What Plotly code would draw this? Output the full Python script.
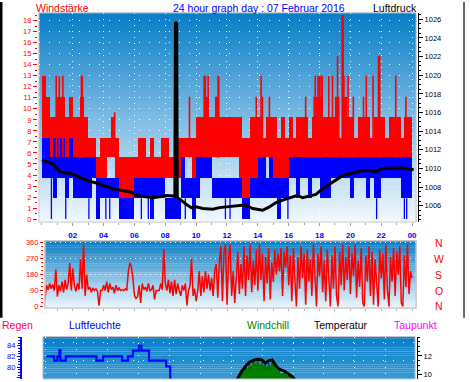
import plotly.graph_objects as go

W, H = 470, 382

# ---------------- data ----------------
BIN = 0.25  # hours per wind bin
gust_hi = [13.0, 11.1, 9.3, 9.3,  11.1, 11.1, 9.3, 11.1,  9.3, 9.3, 11.1, 9.3,  7.4, 7.4, 5.6, 7.4,
           7.4, 7.4, 9.3, 7.4,  5.6, 5.6, 5.6, 5.6,  5.6, 7.4, 7.4, 5.6,  7.4, 5.6, 5.6, 7.4,
           7.4, 5.6, 5.6, 7.4,  7.4, 7.4, 7.4, 7.4,  9.3, 9.3, 11.1, 9.3,  9.3, 11.1, 9.3, 9.3,
           9.3, 9.3, 9.3, 9.3,  7.4, 7.4, 9.3, 9.3,  9.3, 7.4, 9.3, 9.3,  9.3, 7.4, 9.3, 7.4,
           9.3, 7.4, 9.3, 9.3,  9.3, 7.4, 9.3, 11.1,  11.1, 9.3, 9.3, 9.3,  11.1, 7.4, 11.1, 9.3,
           9.3, 7.4, 9.3, 9.3,  9.3, 7.4, 9.3, 9.3,  9.3, 7.4, 9.3, 9.3,  9.3, 7.4, 9.3, 9.3]
gust_lo = [7.4, 7.4, 5.6, 7.4,  7.4, 7.4, 5.6, 7.4,  5.6, 5.6, 5.6, 5.6,  5.6, 5.6, 3.7, 3.7,
           3.7, 5.6, 5.6, 3.7,  0.0, 0.0, 0.0, 1.9,  3.7, 3.7, 3.7, 3.7,  3.7, 3.7, 3.7, 3.7,
           3.7, 3.7, 3.7, 3.7,  5.6, 5.6, 5.6, 3.7,  5.6, 5.6, 5.6, 5.6,  5.6, 5.6, 5.6, 5.6,
           5.6, 5.6, 5.6, 3.7,  1.9, 1.9, 3.7, 3.7,  5.6, 5.6, 5.6, 5.6,  3.7, 1.9, 3.7, 1.9,
           5.6, 5.6, 5.6, 5.6,  5.6, 5.6, 5.6, 5.6,  5.6, 5.6, 5.6, 5.6,  5.6, 5.6, 5.6, 5.6,
           5.6, 5.6, 5.6, 5.6,  5.6, 5.6, 5.6, 5.6,  5.6, 5.6, 3.7, 5.6,  5.6, 5.6, 5.6, 3.7]
wind_hi = [7.4, 7.4, 5.6, 7.4,  7.4, 7.4, 5.6, 7.4,  5.6, 5.6, 5.6, 5.6,  5.6, 5.6, 3.7, 3.7,
           3.7, 3.7, 3.7, 3.7,  1.9, 1.9, 1.9, 1.9,  3.7, 3.7, 3.7, 3.7,  3.7, 3.7, 3.7, 3.7,
           1.9, 1.9, 1.9, 1.9,  5.6, 3.7, 3.7, 3.7,  5.6, 5.6, 5.6, 5.6,  3.7, 3.7, 3.7, 3.7,
           3.7, 3.7, 3.7, 3.7,  1.9, 1.9, 3.7, 3.7,  5.6, 5.6, 3.7, 5.6,  3.7, 3.7, 3.7, 3.7,
           5.6, 5.6, 5.6, 5.6,  5.6, 5.6, 5.6, 5.6,  5.6, 5.6, 5.6, 5.6,  5.6, 5.6, 5.6, 5.6,
           5.6, 5.6, 5.6, 5.6,  5.6, 5.6, 5.6, 5.6,  5.6, 5.6, 5.6, 5.6,  5.6, 5.6, 5.6, 5.6]
wind_lo = [3.7, 3.7, 3.7, 1.9,  3.7, 3.7, 1.9, 3.7,  1.9, 1.9, 1.9, 1.9,  1.9, 3.7, 0.0, 1.9,
           1.9, 1.9, 1.9, 1.9,  0.0, 0.0, 0.0, 0.0,  1.9, 1.9, 1.9, 1.9,  0.0, 1.9, 1.9, 1.9,
           0.0, 0.0, 0.0, 0.0,  1.9, 1.9, 1.9, 0.0,  1.9, 3.7, 3.7, 3.7,  1.9, 1.9, 1.9, 1.9,
           1.9, 1.9, 1.9, 1.9,  0.0, 0.0, 1.9, 1.9,  1.9, 1.9, 1.9, 1.9,  1.9, 0.0, 1.9, 1.9,
           3.7, 3.7, 1.9, 3.7,  3.7, 1.9, 3.7, 3.7,  1.9, 1.9, 1.9, 3.7,  3.7, 3.7, 3.7, 3.7,
           1.9, 3.7, 3.7, 3.7,  1.9, 3.7, 1.9, 1.9,  3.7, 3.7, 3.7, 3.7,  3.7, 1.9, 1.9, 1.9]
spike_hours = [0.93, 1.13, 1.36, 2.57, 2.62, 4.72, 9.57, 10.52, 10.6, 10.78, 11.3, 11.42, 11.47,
               13.9, 14.21, 14.3, 14.75, 17.1, 17.65, 17.72, 17.9, 18.0, 18.1, 18.17, 18.6, 18.84,
               19.05, 19.17, 19.25, 19.47, 19.53, 19.58, 19.85, 20.19, 20.85, 21.03, 21.47, 21.82,
               21.9, 22.94, 23.6]
spike_values = [13.0, 13.0, 13.0, 13.0, 13.0, 9.7, 11.1, 13.0, 13.0, 13.0, 11.1, 13.0, 13.0,
                11.1, 13.0, 11.1, 11.1, 11.1, 11.1, 13.0, 13.0, 13.0, 13.0, 13.0, 13.0, 13.0,
                11.1, 14.8, 11.1, 18.5, 18.5, 13.0, 13.0, 11.1, 11.1, 13.0, 13.0, 14.8,
                14.8, 13.0, 11.1]
calm_hours = [0.62, 1.55, 3.05, 4.15, 4.4, 6.45, 6.9, 9.3, 11.9, 12.2, 15.3, 15.95, 21.7, 23.5, 23.65]

press_hours = [0.0, 0.41, 0.73, 0.95, 1.16, 1.49, 1.81, 2.24, 2.67, 3.10, 3.54, 3.75, 4.18, 4.61,
               5.05, 5.48, 5.80, 6.02, 6.34, 6.77, 7.20, 7.63, 8.07, 8.49, 8.62, 8.66, 8.74, 8.78,
               8.93, 9.36, 9.68, 10.0, 10.43, 11.08, 11.51, 12.16, 12.8, 13.13, 13.67, 14.1, 14.31,
               14.75, 15.18, 15.61, 16.26, 16.58, 16.9, 17.23, 17.77, 18.2, 18.63, 19.06, 19.49,
               19.92, 20.36, 20.78, 21.22, 21.65, 22.08, 22.51, 22.94, 23.37, 23.8, 24.1]
press_vals = [1010.92, 1010.63, 1010.47, 1010.04, 1009.68, 1009.51, 1009.51, 1009.23, 1008.88,
              1008.62, 1008.45, 1008.28, 1008.1, 1007.82, 1007.67, 1007.57, 1007.46, 1007.22,
              1007.04, 1006.97, 1006.86, 1006.97, 1007.11, 1007.04, 1007.0, 1025.7, 1025.5,
              1006.9, 1006.69, 1006.16, 1005.8, 1005.88, 1005.7, 1005.63, 1005.8, 1005.91,
              1006.08, 1006.08, 1005.7, 1005.63, 1005.52, 1005.87, 1006.34, 1006.61, 1006.97,
              1007.11, 1006.86, 1006.97, 1007.22, 1007.82, 1008.28, 1008.8, 1009.23, 1009.44,
              1009.65, 1009.79, 1009.79, 1009.65, 1010.0, 1010.0, 1009.96, 1010.04, 1009.94,
              1009.86]

DIR_STEP = 0.1  # hours between direction samples
dir_values = [
    65, 45, 45, 120, 95, 130, 100, 125, 90, 210,
    55, 120, 85, 140, 80, 150, 95, 130, 245, 90,
    215, 120, 85, 130, 95, 270, 100, 350, 60, 180,
    95, 110, 80, 105, 90, 100, 85, 5, 90, 90,
    120, 90, 140, 80, 130, 95, 110, 75, 120, 90,
    105, 90, 95, 90, 100, 90, 200, 245, 225, 160,
    60, 45, 55, 120, 20, 130, 95, 110, 85, 130,
    90, 95, 120, 40, 90, 90, 90, 130, 95, 325,
    130, 90, 150, 75, 140, 60, 150, 70, 130, 90,
    60, 120, 90, 130, 5, 90, 120, 270, 60, 100,
    30, 90, 200, 60, 170, 80, 200, 100, 180, 90,
    160, 60, 200, 240, 50, 250, 340, 30, 300, 350,
    10, 280, 350, 60, 200, 20, 160, 310, 70, 240,
    100, 340, 60, 290, 150, 350, 80, 260, 120, 320,
    90, 350, 150, 300, 30, 280, 130, 330, 40, 250,
    140, 320, 180, 300, 200, 330, 60, 310, 220, 340,
    120, 290, 30, 330, 150, 0, 280, 100, 340, 160,
    300, 10, 320, 140, 270, 60, 350, 130, 0, 300,
    170, 340, 80, 260, 30, 320, 150, 0, 290, 100,
    340, 60, 0, 310, 120, 350, 90, 280, 150, 340,
    70, 300, 170, 350, 50, 260, 110, 330, 20, 0,
    290, 140, 340, 60, 310, 10, 270, 130, 0, 320,
    160, 300, 40, 350, 90, 0, 280, 140, 330, 60,
    310, 180, 340, 20, 0, 290, 110, 350, 70, 200,
    160]
dir_labels = ["N", "W", "S", "O", "N"]
dir_label_vals = [360, 270, 180, 90, 0]

hum_hours = [0.06, 0.56, 0.77, 0.90, 0.96, 1.31, 3.29, 3.72, 4.95, 5.33, 5.65, 6.04, 6.20, 6.69, 7.80, 8.06, 8.40]
hum_vals = [82.0, 81.2, 82.0, 83.2, 81.2, 82.0, 81.2, 82.0, 81.2, 82.0, 83.1, 84.0, 83.1, 81.2, 80.1, 77.0, 77.0]

temp_hours = [12.30, 12.43, 12.65, 12.97, 13.18, 13.50, 13.72, 14.00, 14.21, 14.43, 14.65, 14.81, 15.07, 15.44, 15.72, 15.98, 16.20]
temp_vals = [9.2, 9.58, 10.28, 10.99, 11.34, 11.58, 11.65, 11.58, 11.23, 11.51, 11.58, 11.16, 10.63, 10.39, 10.10, 9.76, 9.3]

wc_hours = [12.30, 12.45, 12.65, 12.80, 12.97, 13.10, 13.18, 13.30, 13.40, 13.50, 13.60, 13.72, 13.85, 14.00, 14.10,
            14.21, 14.30, 14.43, 14.55, 14.65, 14.75, 14.81, 14.95, 15.07, 15.20, 15.44, 15.60, 15.72, 15.98, 16.20]
wc_vals = [9.1, 9.5, 10.1, 10.2, 10.8, 10.5, 11.2, 10.7, 11.3, 11.4, 10.9, 11.5, 10.8, 11.4, 10.7,
           11.1, 10.5, 11.3, 10.6, 11.4, 10.8, 11.0, 10.3, 10.5, 10.0, 10.2, 9.8, 9.9, 9.6, 9.1]

hour_ticks = [2, 4, 6, 8, 10, 12, 14, 16, 18, 20, 22, 24]
hour_labels = ["02", "04", "06", "08", "10", "12", "14", "16", "18", "20", "22", "00"]
wind_ticks = list(range(0, 19))
press_ticks = [1006, 1008, 1010, 1012, 1014, 1016, 1018, 1020, 1022, 1024, 1026]
dir_ticks = [0, 90, 180, 270, 360]
hum_ticks = [78, 80, 82, 84]
temp_ticks = [10, 12]

# ---------------- helpers ----------------
FONT = "Liberation Sans"


def xdom(a, b):
    return [a / W, b / W]


def ydom(top, bottom):
    return [1 - bottom / H, 1 - top / H]


def gradient(xref, yref, top, bot, n):
    out = []
    for i in range(n):
        t = (i + 0.5) / n
        c = tuple(round(top[k] + (bot[k] - top[k]) * t) for k in range(3))
        out.append(dict(type="rect", xref=xref, yref=yref, x0=0, x1=1,
                        y0=max(0, 1 - (i + 1) / n - 0.003), y1=1 - i / n,
                        fillcolor="rgb(%d,%d,%d)" % c, line=dict(width=0), layer="below"))
    return out


def frame(xref, yref, color="#c8c8c8", width=1):
    return dict(type="rect", xref=xref, yref=yref, x0=0, x1=1, y0=0, y1=1,
                line=dict(color=color, width=width), fillcolor="rgba(0,0,0,0)", layer="above")


fig = go.Figure()

# ---- top panel: wind ----
centers = [i * BIN + BIN / 2 for i in range(len(gust_hi))]
fig.add_trace(go.Bar(x=centers, y=[h - l for h, l in zip(gust_hi, gust_lo)], base=gust_lo,
                     width=BIN, marker=dict(color="#ff0000", line=dict(width=0)),
                     xaxis="x", yaxis="y", hoverinfo="skip"))
sx, sy = [], []
for h, v in zip(spike_hours, spike_values):
    sx += [h, h, None]
    sy += [5.6, v, None]
fig.add_trace(go.Scatter(x=sx, y=sy, mode="lines", line=dict(color="#ff0000", width=1.6),
                         xaxis="x", yaxis="y", hoverinfo="skip"))
fig.add_trace(go.Bar(x=centers, y=[h - l for h, l in zip(wind_hi, wind_lo)], base=wind_lo,
                     width=BIN, marker=dict(color="#0000ff", line=dict(width=0)),
                     xaxis="x", yaxis="y", hoverinfo="skip"))
cx, cy = [], []
for h in calm_hours:
    top = wind_lo[min(int(h / BIN), len(wind_lo) - 1)]
    cx += [h, h, None]
    cy += [0, max(top, 1.9), None]
fig.add_trace(go.Scatter(x=cx, y=cy, mode="lines", line=dict(color="#0000ff", width=1.3),
                         xaxis="x", yaxis="y", hoverinfo="skip"))
fig.add_trace(go.Scatter(x=press_hours, y=press_vals, mode="lines",
                         line=dict(color="#000000", width=3), xaxis="x", yaxis="y2", hoverinfo="skip"))

# ---- middle panel: wind direction ----
dir_hours = [i * DIR_STEP for i in range(len(dir_values))]
fig.add_trace(go.Scatter(x=dir_hours, y=dir_values, mode="lines",
                         line=dict(color="#ff0000", width=1.5), xaxis="x2", yaxis="y3", hoverinfo="skip"))

# ---- bottom panel ----
fig.add_trace(go.Scatter(x=[0, 24], y=[0, 0], mode="markers", marker=dict(opacity=0),
                         xaxis="x3", yaxis="y6", hoverinfo="skip"))
fig.add_trace(go.Scatter(x=wc_hours, y=wc_vals, mode="lines", fill="tozeroy",
                         fillcolor="#008000", line=dict(color="#006400", width=1),
                         xaxis="x3", yaxis="y5", hoverinfo="skip"))
fig.add_trace(go.Scatter(x=temp_hours, y=temp_vals, mode="lines",
                         line=dict(color="#000000", width=3), xaxis="x3", yaxis="y5", hoverinfo="skip"))
fig.add_trace(go.Scatter(x=hum_hours, y=hum_vals, mode="lines", line_shape="hv",
                         line=dict(color="#0000ff", width=2.2), xaxis="x3", yaxis="y4", hoverinfo="skip"))

tickf = dict(family=FONT, size=7.5)

# pixel geometry
TOP = dict(l=39, r=417, t=11, b=223)
MID = dict(l=45, r=417, t=242, b=310)
BOT = dict(l=43, r=416, t=339, b=382)

top_x_range = [-0.19, 24.26]
mid_x_range = [0.19, 24.26]
bot_x_range = [-0.17, 23.89]

layout = dict(
    width=W, height=H, autosize=False,
    margin=dict(l=0, r=0, t=0, b=0, pad=0),
    paper_bgcolor="white", plot_bgcolor="rgba(0,0,0,0)",
    showlegend=False, barmode="overlay", bargap=0,
    font=dict(family=FONT, size=10.5),
    xaxis=dict(domain=xdom(TOP["l"], TOP["r"]), range=top_x_range, anchor="y",
               tickvals=hour_ticks, ticktext=hour_labels,
               tickfont=dict(family=FONT, size=8, color="#0000ff", weight="bold"),
               ticks="outside", ticklen=3, tickcolor="#a0a0a0", ticklabelstandoff=2,
               minor=dict(ticks="outside", ticklen=2, dtick=1, tick0=0, tickcolor="#a0a0a0"),
               showgrid=True, gridcolor="white", griddash="1px,5px", gridwidth=1,
               zeroline=False, showline=False),
    yaxis=dict(domain=ydom(TOP["t"], TOP["b"]), range=[-0.27, 18.71], anchor="free",
               position=37 / W, side="left", tickvals=wind_ticks,
               tickfont=dict(tickf, color="#ff0000"), ticks="outside", ticklen=4, tickcolor="#ff0000",
               minor=dict(ticks="outside", ticklen=2, dtick=0.5, tick0=0, tickcolor="#ff0000"),
               showgrid=True, gridcolor="white", griddash="1px,9px", gridwidth=1,
               zeroline=False, showline=False),
    yaxis2=dict(overlaying="y", side="right", anchor="free", position=419 / W,
                range=[1004.25, 1026.69], tickvals=press_ticks,
                tickfont=dict(tickf, color="#000000"), ticks="outside", ticklen=4, tickcolor="#000000",
                minor=dict(ticks="outside", ticklen=2, dtick=0.5, tick0=1006, tickcolor="#000000"),
                showline=True, linecolor="#000000", linewidth=1, showgrid=False, zeroline=False),
    xaxis2=dict(domain=xdom(MID["l"], MID["r"]), range=mid_x_range, anchor="y3",
                showticklabels=False, ticks="outside", ticklen=2, tickcolor="#b0b0b0", dtick=1, tick0=0,
                showgrid=False, zeroline=False, showline=False),
    yaxis3=dict(domain=ydom(MID["t"], MID["b"]), range=[-8.4, 371.2], anchor="free",
                position=43 / W, side="left", tickvals=dir_ticks,
                tickfont=dict(tickf, color="#ff0000"), ticks="outside", ticklen=3, tickcolor="#ff0000",
                minor=dict(ticks="outside", ticklen=2, dtick=22.5, tick0=0, tickcolor="#ff0000"),
                showgrid=True, gridcolor="white", griddash="1px,4px", gridwidth=1,
                zeroline=False, showline=False),
    xaxis3=dict(domain=xdom(BOT["l"], BOT["r"]), range=bot_x_range, anchor="y4",
                showticklabels=False, ticks="", dtick=2, tick0=0,
                showgrid=True, gridcolor="white", griddash="1px,5px", gridwidth=1,
                zeroline=False, showline=False),
    yaxis4=dict(domain=ydom(BOT["t"], BOT["b"]), range=[77.76, 85.72], anchor="free",
                position=21 / W, side="left", tickvals=hum_ticks,
                tickfont=dict(tickf, color="#0000ff"), ticks="outside", ticklen=3, tickcolor="#0000ff",
                minor=dict(ticks="outside", ticklen=2, dtick=0.5, tick0=78, tickcolor="#0000ff"),
                showline=True, linecolor="#0000ff", linewidth=2, showgrid=False, zeroline=False),
    yaxis5=dict(overlaying="y4", side="right", anchor="free", position=418 / W,
                range=[9.55, 14.07], tickvals=temp_ticks,
                tickfont=dict(tickf, color="#000000"), ticks="outside", ticklen=4, tickcolor="#000000",
                minor=dict(ticks="outside", ticklen=2, dtick=0.5, tick0=10, tickcolor="#000000"),
                showline=True, linecolor="#000000", linewidth=1, showgrid=False, zeroline=False),
    yaxis6=dict(overlaying="y4", side="left", anchor="x3", range=[-0.016, 2.327],
                showticklabels=False, ticks="", dtick=1, tick0=0,
                showgrid=True, gridcolor="white", griddash="1px,9px", gridwidth=1,
                zeroline=False, showline=False),
)

shapes = []
shapes += gradient("x domain", "y domain", (8, 125, 198), (242, 248, 254), 70)
shapes += gradient("x2 domain", "y3 domain", (10, 125, 196), (238, 246, 253), 30)
shapes += gradient("x3 domain", "y4 domain", (8, 125, 198), (55, 155, 212), 20)
shapes.append(frame("x domain", "y domain"))
shapes.append(frame("x2 domain", "y3 domain", "#c8c8c8", 1.5))
shapes.append(frame("x3 domain", "y4 domain"))
# black edge strips of the original graphic
shapes.append(dict(type="rect", xref="paper", yref="paper", x0=0, x1=2.5 / W,
                   y0=1 - 320 / H, y1=1, fillcolor="black", line=dict(width=0)))
shapes.append(dict(type="line", xref="paper", yref="paper", x0=465 / W, x1=465 / W,
                   y0=1 - 320 / H, y1=1, line=dict(color="black", width=1.2)))
layout["shapes"] = shapes

ann = []


def label(text, x, y, color, anchor="left"):
    ann.append(dict(text=text, x=x / W, y=1 - y / H, xref="paper", yref="paper",
                    xanchor=anchor, yanchor="middle", showarrow=False,
                    font=dict(family=FONT, size=10.5, color=color)))


label("Windstärke", 34, 6, "#ff0000")
label("24 hour graph day : 07 Februar 2016", 171, 6, "#0000ff")
label("Luftdruck", 372, 6, "#000000")
label("Regen", 0, 327, "#ff0066")
label("Luftfeuchte", 67, 327, "#0000ff")
label("Windchill", 246, 327, "#008000")
label("Temperatur", 313, 327, "#000000")
label("Taupunkt", 393, 327, "#ff00ff")
for t, v in zip(dir_labels, dir_label_vals):
    ann.append(dict(text=t, x=439.5 / W, y=v, xref="paper", yref="y3",
                    xanchor="center", yanchor="middle", showarrow=False,
                    font=dict(family=FONT, size=10.5, color="#ff0000")))
layout["annotations"] = ann

fig.update_layout(layout)
fig.write_html("out.html", config={"displayModeBar": False, "staticPlot": True},
               post_script="document.body.style.margin='0';document.body.style.overflow='hidden';")
